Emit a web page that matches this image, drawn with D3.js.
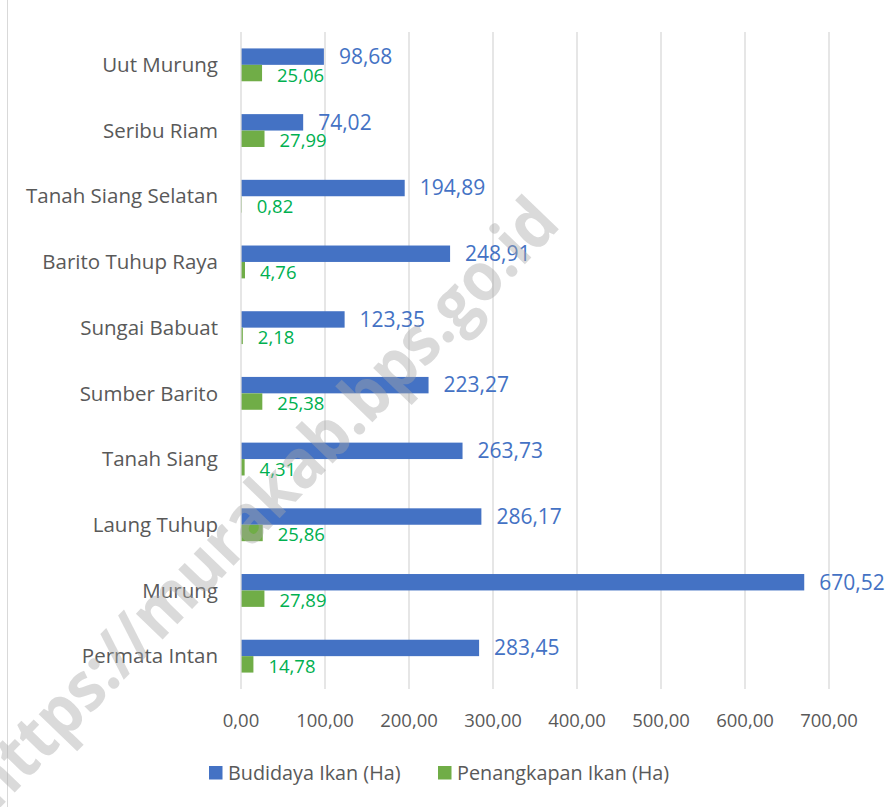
<!DOCTYPE html>
<html lang="en">
<head>
    <meta charset="UTF-8">
    <title>Luas Budidaya dan Penangkapan Ikan</title>
    <script src="https://d3js.org/d3.v7.min.js"></script>
    <style>
        body { margin: 0; background: #fff; }
        text { font-family: "Open Sans", "Noto Sans", sans-serif; }
    </style>
</head>
<body>
    <svg></svg>

    <script>
        const kecamatan = ["Uut Murung", "Seribu Riam", "Tanah Siang Selatan", "Barito Tuhup Raya",
            "Sungai Babuat", "Sumber Barito", "Tanah Siang", "Laung Tuhup", "Murung", "Permata Intan"];
        const budidaya = [98.68, 74.02, 194.89, 248.91, 123.35, 223.27, 263.73, 286.17, 670.52, 283.45];
        const penangkapan = [25.06, 27.99, 0.82, 4.76, 2.18, 25.38, 4.31, 25.86, 27.89, 14.78];
        const seriesNames = ["Budidaya Ikan (Ha)", "Penangkapan Ikan (Ha)"];
        const tickValues = [0, 100, 200, 300, 400, 500, 600, 700];

        const width = 889, height = 807;
        const colors = ["#4472C4", "#70AD47"];
        const labelColors = ["#4472C4", "#00B050"];
        const fmt = d => d3.format(".2f")(d).replace(".", ",");

        const svg = d3.select("svg")
            .attr("width", width)
            .attr("height", height);

        // chart border on the left
        svg.append("line")
            .attr("x1", 7.5).attr("x2", 7.5)
            .attr("y1", 0).attr("y2", height)
            .attr("stroke", "#d9d9d9");

        const plotLeft = 241, plotTop = 32, plotH = 657;
        const x = d3.scaleLinear().domain([0, 100]).range([plotLeft, plotLeft + 84]);
        const y = d3.scaleBand().domain(kecamatan).range([plotTop, plotTop + plotH]).paddingInner(0.5).paddingOuter(0.25);
        const sub = d3.scaleBand().domain([0, 1]).range([0, y.bandwidth()]);

        // gridlines
        svg.append("g")
            .selectAll("line")
            .data(tickValues.slice(1))
            .join("line")
            .attr("x1", d => x(d)).attr("x2", d => x(d))
            .attr("y1", plotTop).attr("y2", plotTop + plotH)
            .attr("stroke", "#d9d9d9")
            .attr("stroke-width", 1.3);

        // x tick labels
        svg.append("g")
            .selectAll("text")
            .data(tickValues)
            .join("text")
            .attr("x", d => x(d))
            .attr("y", 727)
            .attr("text-anchor", "middle")
            .attr("fill", "#595959")
            .attr("font-size", 18.5)
            .text(fmt);

        // category labels
        svg.append("g")
            .selectAll("text")
            .data(kecamatan)
            .join("text")
            .attr("x", 218)
            .attr("y", d => y(d) + y.bandwidth() / 2)
            .attr("dy", "0.35em")
            .attr("text-anchor", "end")
            .attr("fill", "#595959")
            .attr("font-size", 20.5)
            .text(d => d);

        const rows = kecamatan.map((k, i) => ({ k, vals: [budidaya[i], penangkapan[i]] }));

        const groups = svg.append("g")
            .selectAll("g")
            .data(rows)
            .join("g")
            .attr("transform", d => `translate(0,${y(d.k)})`);

        groups.selectAll("rect")
            .data(d => d.vals)
            .join("rect")
            .attr("x", x(0))
            .attr("y", (d, i) => sub(i))
            .attr("width", d => x(d) - x(0))
            .attr("height", sub.bandwidth())
            .attr("fill", (d, i) => colors[i]);

        // axis line
        svg.append("line")
            .attr("x1", x(0)).attr("x2", x(0))
            .attr("y1", plotTop).attr("y2", plotTop + plotH)
            .attr("stroke", "#d9d9d9")
            .attr("stroke-width", 1.3);

        groups.selectAll("text")
            .data(d => d.vals)
            .join("text")
            .attr("x", d => x(d) + 15)
            .attr("y", (d, i) => sub(i) + sub.bandwidth() / 2 + (i ? 2 : 0))
            .attr("dy", "0.35em")
            .attr("fill", (d, i) => labelColors[i])
            .attr("font-size", (d, i) => i ? 18.5 : 21)
            .text(fmt);

        // legend
        const legend = svg.append("g")
            .selectAll("g")
            .data(seriesNames)
            .join("g")
            .attr("transform", (d, i) => `translate(${i ? 438 : 209},766)`);
        legend.append("rect")
            .attr("width", 13.5).attr("height", 13.5)
            .attr("fill", (d, i) => colors[i]);
        legend.append("text")
            .attr("x", 19).attr("y", 7)
            .attr("dy", "0.35em")
            .attr("fill", "#595959")
            .attr("font-size", 19.8)
            .text(d => d);

        // watermark
        svg.append("text")
            .attr("transform", "translate(-4,812) rotate(-46)")
            .attr("font-size", 68)
            .attr("font-weight", "bold")
            .attr("textLength", 815)
            .attr("lengthAdjust", "spacingAndGlyphs")
            .attr("fill", "#a6a6a6")
            .attr("fill-opacity", 0.42)
            .text("https://murakab.bps.go.id");
    </script>
</body>
</html>
